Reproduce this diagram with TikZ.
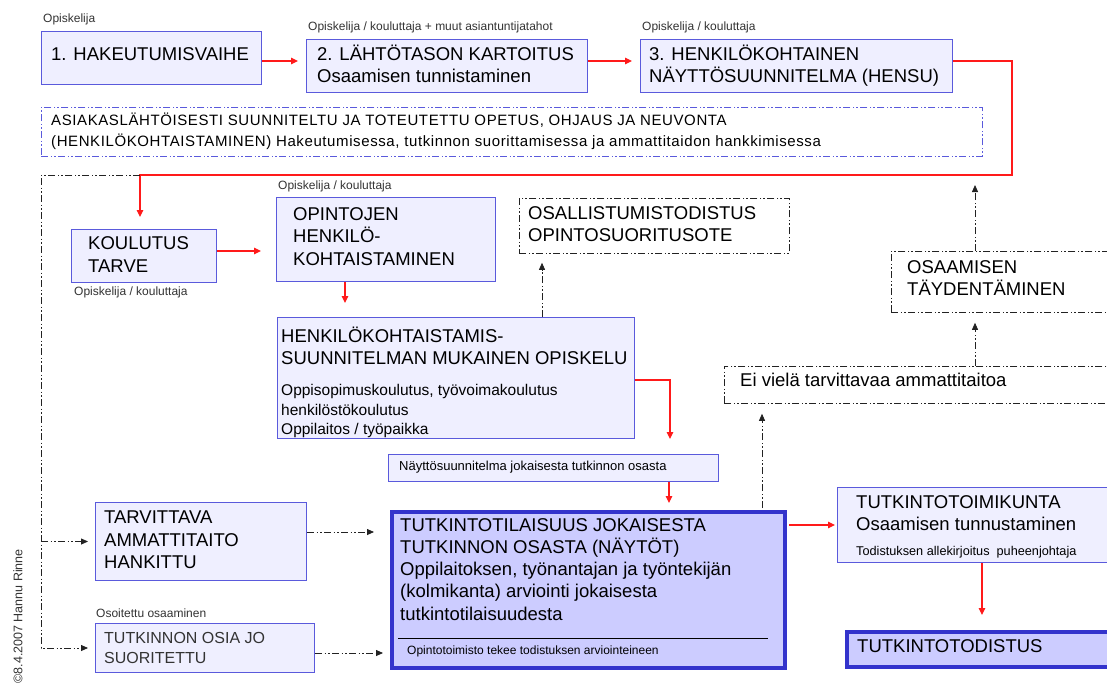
\documentclass[tikz,border=0pt]{standalone}
\usepackage{fontspec}
\setmainfont{Liberation Sans}
\newfontfamily\spacedsans[LetterSpace=4]{Liberation Sans}
\usetikzlibrary{arrows.meta}

\definecolor{boxfill}{HTML}{EFEFFF}
\definecolor{boxline}{HTML}{5A5ADC}
\definecolor{keyfill}{HTML}{CCCCFF}
\definecolor{keyline}{HTML}{3333CC}
\definecolor{flowred}{HTML}{FF1A1A}
\definecolor{labelgray}{HTML}{333333}
\definecolor{openline}{HTML}{222222}

\begin{document}
\begin{tikzpicture}[x=1pt,y=-1pt,
  ddpattern/.style={dash pattern=on 7pt off 2.5pt on 1.5pt off 2pt on 1.5pt off 2.5pt},
  frame/.style={draw=boxline, fill=boxfill, line width=1pt, inner sep=0pt, anchor=north west},
  keyframe/.style={draw=keyline, fill=keyfill, line width=4pt, inner sep=0pt, anchor=north west},
  openframe/.style={draw=openline, ddpattern, line width=0.8pt, inner sep=0pt, anchor=north west},
  blueopen/.style={draw=boxline, ddpattern, line width=0.9pt, inner sep=0pt, anchor=north west},
  txt/.style={anchor=west, inner sep=0pt, align=left, text=black},
  big/.style={txt, font=\fontsize{18.5}{22.3}\selectfont},
  mid/.style={txt, font=\fontsize{15.5}{19.3}\selectfont},
  note/.style={txt, font=\fontsize{12}{14}\selectfont, text=labelgray},
  wide/.style={txt, font=\spacedsans\fontsize{15}{20.5}\selectfont},
  redarrow/.style={draw=flowred, line width=1.2pt, -{Triangle[length=7pt,width=6.5pt]}},
  dasharrow/.style={draw=openline, line width=0.8pt, ddpattern, -{Triangle[length=7pt,width=6pt]}}
]
\path[use as bounding box] (0,0) rectangle (1107,682);
\fill[white] (0,0) rectangle (1107,682);
\clip (0,0) rectangle (1107,682);

% ---- top row: phases 1-3 ----
\node[note] (lab1) at (43,19) {Opiskelija};
\node[frame, minimum width=220pt, minimum height=53pt] (b1) at (41,31) {};
\node[big] (b1-t) at (51,54.4) {1. HAKEUTUMISVAIHE};

\node[note] (lab2) at (308,27) {Opiskelija / kouluttaja + muut asiantuntijatahot};
\node[frame, minimum width=281pt, minimum height=53pt] (b2) at (306,39) {};
\node[big] (b2-t) at (317,63.5) {2. LÄHTÖTASON KARTOITUS\\Osaamisen tunnistaminen};

\node[note] (lab3) at (642,27) {Opiskelija / kouluttaja};
\node[frame, minimum width=312pt, minimum height=53pt] (b3) at (640,39) {};
\node[big] (b3-t) at (649,66) {3. HENKILÖKOHTAINEN\\NÄYTTÖSUUNNITELMA (HENSU)};

% ---- guiding principle band ----
\node[blueopen, minimum width=941pt, minimum height=49pt] (asia) at (41,107) {};
\node[wide] (asia-t) at (51,131.2) {ASIAKASLÄHTÖISESTI SUUNNITELTU JA TOTEUTETTU OPETUS, OHJAUS JA NEUVONTA\\(HENKILÖKOHTAISTAMINEN) Hakeutumisessa, tutkinnon suorittamisessa ja ammattitaidon hankkimisessa};

% ---- studying ----
\node[frame, minimum width=145pt, minimum height=53pt] (koul) at (71,229) {};
\node[big] (koul-t) at (88,254.4) {KOULUTUS\\TARVE};
\node[note] (lab4) at (74,292.5) {Opiskelija / kouluttaja};

\node[note] (lab5) at (278,186.5) {Opiskelija / kouluttaja};
\node[frame, minimum width=219pt, minimum height=84pt] (opin) at (276,197) {};
\node[big] (opin-t) at (293,236.4) {OPINTOJEN\\HENKILÖ-\\KOHTAISTAMINEN};

\node[frame, minimum width=357pt, minimum height=121pt] (henk) at (277,317) {};
\node[big] (henk-t) at (281,345.5) {HENKILÖKOHTAISTAMIS-\\SUUNNITELMAN MUKAINEN OPISKELU};
\node[mid] (henk-s) at (281,411) {Oppisopimuskoulutus, työvoimakoulutus\\henkilöstökoulutus\\Oppilaitos / työpaikka};

\node[openframe, minimum width=270pt, minimum height=55pt] (osall) at (519,198) {};
\node[big] (osall-t) at (528,224.4) {OSALLISTUMISTODISTUS\\OPINTOSUORITUSOTE};

% ---- supplementing competence ----
\node[openframe, minimum width=240pt, minimum height=61pt] (osaam) at (891,251) {};
\node[big] (osaam-t) at (907,278) {OSAAMISEN\\TÄYDENTÄMINEN};

\node[openframe, minimum width=400pt, minimum height=37pt] (ei) at (724,366) {};
\node[big] (ei-t) at (740,380) {Ei vielä tarvittavaa ammattitaitoa};

% ---- demonstration ----
\node[frame, minimum width=330pt, minimum height=27pt] (nay) at (388,454) {};
\node[txt, font=\fontsize{13}{15}\selectfont] (nay-t) at (399,467.5) {Näyttösuunnitelma jokaisesta tutkinnon osasta};

\node[keyframe, minimum width=393pt, minimum height=156pt] (main) at (390,510) {};
\node[big] (main-t) at (400,569.3) {TUTKINTOTILAISUUS JOKAISESTA\\TUTKINNON OSASTA (NÄYTÖT)\\Oppilaitoksen, työnantajan ja työntekijän\\(kolmikanta) arviointi jokaisesta\\tutkintotilaisuudesta};
\draw[black, line width=0.8pt] (398,638.3) -- (768,638.3);
\node[note, text=black] (main-s) at (407,651) {Opintotoimisto tekee todistuksen arviointeineen};

\node[frame, minimum width=290pt, minimum height=75pt] (toim) at (837,487) {};
\node[big] (toim-t) at (856,513.4) {TUTKINTOTOIMIKUNTA\\Osaamisen tunnustaminen};
\node[note, text=black, font=\fontsize{12.7}{14}\selectfont] (toim-s) at (856,551.8) {Todistuksen allekirjoitus\ \ puheenjohtaja};

\node[keyframe, minimum width=290pt, minimum height=35pt] (todist) at (845,630) {};
\node[big] (todist-t) at (857,646.4) {TUTKINTOTODISTUS};

\node[frame, minimum width=211pt, minimum height=78pt] (tarv) at (95,502) {};
\node[big] (tarv-t) at (104,540) {TARVITTAVA\\AMMATTITAITO\\HANKITTU};

\node[note] (lab6) at (96,613) {Osoitettu osaaminen};
\node[frame, minimum width=219pt, minimum height=49pt] (tosia) at (95,623) {};
\node[txt, font=\fontsize{16}{20.2}\selectfont, text=black!80] (tosia-t) at (104,647.6) {TUTKINNON OSIA JO\\SUORITETTU};

\node[note, rotate=90, anchor=east, font=\fontsize{12.5}{14}\selectfont] (copy) at (18,549) {©8.4.2007 Hannu Rinne};

% ---- helper points for connector routes ----
\coordinate (rowTop) at (0,61);
\coordinate (loopR) at (1012,175);
\coordinate (loopL) at (140,175);
\coordinate (bus) at (41,175);
\coordinate (rowK) at (0,251);
\coordinate (colO) at (345,0);
\coordinate (bend) at (670,380);
\coordinate (colN) at (669,0);
\coordinate (rowT) at (0,525);
\coordinate (colT) at (982,0);
\coordinate (colS) at (542,0);
\coordinate (colE) at (762,0);
\coordinate (colR) at (975,0);
\coordinate (redHit) at (975,175);
\coordinate (rowA) at (0,532);
\coordinate (rowB) at (0,653);

% ---- main flow (red) ----
\draw[redarrow, shorten >=8pt] (b1.east |- rowTop) -- (b2.west |- rowTop);
\draw[redarrow, shorten >=8pt] (b2.east |- rowTop) -- (b3.west |- rowTop);
\draw[redarrow, shorten >=12pt] (b3.east |- rowTop) -| (loopR) -- (loopL) -- (loopL |- koul.north);
\draw[redarrow, shorten >=15pt] (koul.east |- rowK) -- (opin.west |- rowK);
\draw[redarrow, shorten >=14pt] (opin.south -| colO) -- (henk.north -| colO);
\draw[redarrow, shorten >=15pt] (henk.east |- bend) -| (nay.north -| bend);
\draw[redarrow, shorten >=7pt] (nay.south -| colN) -- (main.north -| colN);
\draw[redarrow, shorten <=2pt, shorten >=2pt] (main.east |- rowT) -- (toim.west |- rowT);
\draw[redarrow, shorten >=15pt] (toim.south -| colT) -- (todist.north -| colT);

% ---- alternative routes (dash-dot) ----
\draw[dasharrow, shorten >=9pt] (henk.north -| colS) -- (osall.south -| colS);
\draw[dasharrow, shorten <=2pt, shorten >=10pt] (main.north -| colE) -- (ei.south -| colE);
\draw[dasharrow, shorten >=10pt] (ei.north -| colR) -- (osaam.south -| colR);
\draw[dasharrow, shorten >=10pt] (osaam.north -| colR) -- (redHit);
\draw[dasharrow, shorten >=16pt] (tarv.east |- rowA) -- (main.west |- rowA);
\draw[dasharrow, shorten >=7pt] (tosia.east |- rowB) -- (main.west |- rowB);
\draw[dasharrow, shorten >=7pt] (loopL) -- (bus) |- (tosia.west);
\draw[dasharrow, shorten >=7pt] (bus |- tarv.west) -- (tarv.west);
\end{tikzpicture}
\end{document}
